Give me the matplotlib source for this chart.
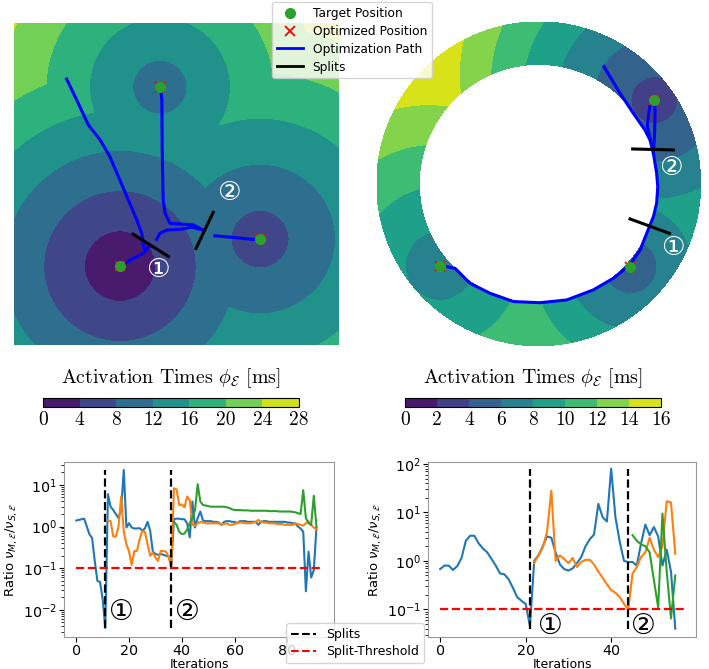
import numpy as np
import matplotlib
matplotlib.use("Agg")
import matplotlib.pyplot as plt
from matplotlib.lines import Line2D

# ---------------- planar domain (left) ----------------
tgt_x_a = [0.449, 0.326, 0.757]
tgt_y_a = [0.801, 0.245, 0.329]
t0_a = [9.5, 0.5, 5.5]
slope_a = [30.0, 32.0, 28.0]
levels_a = [0, 4, 8, 12, 16, 20, 24, 28]

path_a = [
    ([0.162, 0.193, 0.229, 0.265, 0.295, 0.326, 0.352, 0.378, 0.393, 0.400, 0.408, 0.416],
     [0.826, 0.761, 0.683, 0.637, 0.585, 0.512, 0.450, 0.388, 0.347, 0.300, 0.297, 0.305]),
    ([0.416, 0.398, 0.367, 0.342, 0.326], [0.305, 0.285, 0.269, 0.254, 0.246]),
    ([0.439, 0.449, 0.470, 0.511, 0.547, 0.582], [0.328, 0.347, 0.357, 0.359, 0.366, 0.357]),
    ([0.582, 0.552, 0.480, 0.465, 0.459, 0.456, 0.455, 0.451],
     [0.357, 0.373, 0.378, 0.409, 0.450, 0.606, 0.761, 0.800]),
    ([0.618, 0.675, 0.736, 0.757], [0.339, 0.334, 0.328, 0.329]),
]
splits_a = [([0.367, 0.475], [0.344, 0.275]), ([0.560, 0.613], [0.300, 0.412])]
marks_a = [(0.443, 0.233, "①"), (0.662, 0.472, "②")]

# ---------------- ring domain (right) ----------------
tgt_x_b = [0.714, -0.609, 0.564]
tgt_y_b = [0.517, -0.505, -0.511]
t0_b = [2.8, 6.5, 4.5]
slope_b = [8.3, 7.0, 9.0]
levels_b = [0, 2, 4, 6, 8, 10, 12, 14, 16]
r_in, r_out = 0.737, 1.0

path_b = [
    ([0.403, 0.502, 0.584, 0.656, 0.687, 0.708, 0.728, 0.735, 0.728, 0.708, 0.667, 0.626, 0.564],
     [0.723, 0.559, 0.435, 0.332, 0.270, 0.188, 0.065, -0.018, -0.120, -0.203, -0.305, -0.409, -0.500]),
    ([0.564, 0.461, 0.337, 0.173, 0.008, -0.156, -0.300, -0.424, -0.516, -0.588, -0.609],
     [-0.500, -0.583, -0.655, -0.717, -0.734, -0.727, -0.676, -0.614, -0.522, -0.507, -0.505]),
    ([0.708, 0.716, 0.718, 0.716], [0.188, 0.320, 0.450, 0.517]),
    ([0.716, 0.686, 0.670, 0.690], [0.517, 0.480, 0.360, 0.270]),
]
splits_b = [([0.580, 0.831], [0.215, 0.209]), ([0.564, 0.807], [-0.217, -0.306])]
marks_b = [(0.813, 0.096, "②"), (0.829, -0.398, "①")]

# ---------------- ratio curves ----------------
blue_a = [1.4, 1.45, 1.5, 1.55, 1.0, 0.65, 0.53, 0.15, 0.05, 0.047, 0.018, 0.0037,
          6.0, 3.0, 2.5, 2.0, 1.6, 2.6, 23.0, 0.95, 1.2, 0.95, 0.9, 0.9, 0.92, 0.8,
          0.9, 1.3, 0.8, 0.25, 0.22, 0.21, 0.22, 0.21, 0.2, 0.19, 0.12,
          1.5, 1.55, 1.55, 1.5, 1.5, 1.2, 0.55, 4.0, 0.95, 1.6, 2.3, 1.4, 1.35,
          1.35, 1.35, 1.3, 1.3, 1.25, 1.1, 1.3, 1.35, 1.35, 1.3, 1.3, 1.2, 1.35,
          1.35, 1.35, 1.3, 1.3, 1.3, 1.3, 1.1, 1.3, 1.35, 1.35, 1.3, 1.3, 1.3,
          1.3, 1.3, 1.3, 1.3, 1.25, 1.25, 1.2, 1.2, 1.0, 0.9, 0.75, 0.028, 0.25,
          0.06, 0.09, 0.95]
orange_a = [1.4, 1.35, 0.58, 0.58, 1.0, 5.3, 0.75, 0.38, 0.25, 0.12, 0.26, 0.26,
            0.5, 0.78, 0.75, 0.38, 0.2, 0.24, 0.18, 0.15, 0.26, 0.26, 0.25, 0.19,
            0.1, 8.3, 7.8, 3.3, 3.4, 2.9, 5.3, 4.3, 1.1, 1.05, 1.2, 1.3, 1.25,
            1.2, 1.2, 1.2, 1.2, 1.2, 1.2, 1.15, 1.15, 1.2, 1.1, 1.1, 1.15, 1.25,
            1.25, 1.25, 1.2, 1.2, 1.2, 1.25, 1.3, 1.45, 1.3, 1.25, 1.25, 1.2, 1.2,
            1.2, 1.15, 1.15, 1.15, 1.1, 1.1, 1.1, 1.1, 1.2, 1.15, 1.1, 1.05, 1.2,
            1.35, 1.1, 0.95, 0.85]
green_a = [1.3, 1.1, 0.75, 0.66, 0.68, 0.85, 1.2, 1.6, 2.5, 10.4, 4.0, 3.3, 3.2,
           3.1, 3.0, 3.0, 3.0, 3.0, 3.0, 3.0, 2.9, 2.8, 2.6, 2.5, 2.5, 2.5, 2.45,
           2.45, 2.45, 2.4, 2.4, 2.4, 2.4, 2.4, 2.4, 2.4, 2.35, 2.35, 2.35, 2.35,
           2.3, 2.3, 2.3, 2.3, 2.3, 2.25, 2.2, 2.1, 2.0, 7.5, 1.6, 1.2, 1.1, 5.5, 1.0]
start_a = [0, 12, 37]
split_it_a = [11, 36]
thr_end_a = 93

blue_b = [0.68, 0.8, 0.8, 0.65, 0.78, 1.15, 2.6, 3.3, 3.3, 2.3, 1.8, 1.5, 1.1, 0.8,
          0.55, 0.53, 0.42, 0.28, 0.18, 0.15, 0.13, 0.045, 1.0, 1.3, 2.0, 3.2, 3.0,
          1.5, 0.85, 0.68, 0.63, 0.7, 0.9, 1.2, 2.0, 2.8, 3.5, 15.0, 8.0, 6.5, 80.0,
          8.0, 2.5, 1.0, 0.95, 0.95, 0.8, 2.3, 5.6, 3.4, 5.0, 3.2, 0.8, 1.7, 0.6, 0.04]
orange_b = [0.9, 1.3, 1.9, 4.0, 28.0, 1.0, 1.3, 1.1, 0.9, 1.15, 0.75, 0.95, 1.05,
            1.05, 0.85, 0.6, 0.45, 0.33, 0.25, 0.22, 0.18, 0.13, 0.1, 0.55, 0.75,
            1.2, 1.5, 3.0, 1.7, 1.2, 2.0, 17.0, 16.0, 1.4]
green_b = [3.4, 2.6, 2.2, 2.0, 1.5, 0.4, 0.11, 9.5, 0.6, 0.065, 0.5]
start_b = [0, 22, 45]
split_it_b = [21, 44]
thr_end_b = 57
threshold = 0.1

fig = plt.figure(figsize=(7.09, 6.69), dpi=100)
W, H = 709.0, 669.0
circ_font = ["DejaVu Sans", "Noto Sans CJK JP"]


def draw_common(ax, paths, splits, marks, tx, ty):
    for px, py in paths:
        ax.plot(px, py, color="blue", lw=2.2, zorder=3)
    for sx, sy in splits:
        ax.plot(sx, sy, color="black", lw=2.2, zorder=4)
    ax.plot(tx, ty, "x", color="red", ms=7, mew=1.3, zorder=5)
    ax.plot(tx, ty, "o", color="tab:green", ms=7, zorder=6)
    for x, y, s in marks:
        ax.text(x, y, s, color="white", fontsize=19, ha="center", va="center",
                family=circ_font, zorder=7)
    ax.set_axis_off()


# left map
ax_a = fig.add_axes([14 / W, 1 - 345 / H, 325 / W, 322 / H])
g = np.linspace(0, 1, 300)
GX, GY = np.meshgrid(g, g)
phi_a = np.min([t + s * np.hypot(GX - x, GY - y)
                for x, y, t, s in zip(tgt_x_a, tgt_y_a, t0_a, slope_a)], axis=0)
cf_a = ax_a.contourf(GX, GY, np.clip(phi_a, 0, 27.9), levels=levels_a, cmap="viridis")
draw_common(ax_a, path_a, splits_a, marks_a, tgt_x_a, tgt_y_a)
ax_a.set_xlim(0, 1)
ax_a.set_ylim(0, 1)

# ring map
ax_b = fig.add_axes([(538.7 - 162) / W, 1 - (183.8 + 162) / H, 324 / W, 324 / H])
rr = np.linspace(r_in, r_out, 40)
th = np.linspace(0, 2 * np.pi, 361)
RR, TH = np.meshgrid(rr, th)
RX, RY = RR * np.cos(TH), RR * np.sin(TH)
fields = []
for x, y, t, s in zip(tgt_x_b, tgt_y_b, t0_b, slope_b):
    ri, ti = np.hypot(x, y), np.arctan2(y, x)
    dth = np.angle(np.exp(1j * (TH - ti)))
    d = np.hypot(0.5 * (RR + ri) * dth, RR - ri)
    fields.append(t + s * d)
phi_b = np.min(fields, axis=0)
cf_b = ax_b.contourf(RX, RY, np.clip(phi_b, 0, 15.9), levels=levels_b, cmap="viridis")
draw_common(ax_b, path_b, splits_b, marks_b, tgt_x_b, tgt_y_b)
ax_b.set_xlim(-1, 1)
ax_b.set_ylim(-1, 1)
ax_b.set_aspect("equal")

# colorbars
cb_label = r"Activation Times $\phi_{\mathcal{E}}$ [ms]"
for cf, lv, x0 in [(cf_a, levels_a, 43), (cf_b, levels_b, 405)]:
    cax = fig.add_axes([x0 / W, 1 - 407 / H, 256 / W, 9 / H])
    cb = fig.colorbar(cf, cax=cax, orientation="horizontal", ticks=lv)
    cax.set_xticklabels([str(v) for v in lv], fontfamily="cmr10", fontsize=14)
    cax.tick_params(length=0, pad=3)
    cb.outline.set_linewidth(0.8)
    fig.text((x0 + 128) / W, 1 - 378 / H, cb_label, ha="center", va="center",
             fontsize=14.3, fontfamily="cmr10", math_fontfamily="cm")

# top legend
handles = [
    Line2D([], [], ls="", marker="o", color="tab:green", ms=7, label="Target Position"),
    Line2D([], [], ls="", marker="x", color="red", ms=7, mew=1.3, label="Optimized Position"),
    Line2D([], [], color="blue", lw=2, label="Optimization Path"),
    Line2D([], [], color="black", lw=2, label="Splits"),
]
fig.legend(handles=handles, loc="upper center", bbox_to_anchor=(352 / W, 1 - 2 / H),
           borderaxespad=0, fontsize=8.8, handlelength=2.1, labelspacing=0.4)


def ratio_plot(ax, series, starts, split_its, thr_end, marks, ylim):
    allv = []
    for vals, st, c in zip(series, starts, ["C0", "C1", "C2"]):
        ax.plot(range(st, st + len(vals)), vals, color=c, lw=1.5)
        allv += vals
    ax.vlines(split_its, min(allv), max(allv), colors="black", linestyles="--", lw=1.6)
    ax.hlines(threshold, 0, thr_end, colors="red", linestyles="--", lw=1.6)
    ax.set_yscale("log")
    ax.set_ylim(*ylim)
    for x, y, s in marks:
        ax.text(x, y, s, color="black", fontsize=20, ha="center", va="center",
                family=circ_font)
    ax.set_xlabel("Iterations", fontsize=9, labelpad=-0.3)
    ax.set_ylabel(r"Ratio $\nu_{M,\mathcal{E}}/\nu_{S,\mathcal{E}}$", fontsize=9.5,
                  labelpad=2)
    ax.tick_params(labelsize=10.3, pad=1.5)
    for sp in ax.spines.values():
        sp.set_color("0.6")


ax_c = fig.add_axes([64 / W, 1 - 637 / H, 270 / W, 175 / H])
ratio_plot(ax_c, [blue_a, orange_a, green_a], start_a, split_it_a, thr_end_a,
           [(17, 0.009, "①"), (42.3, 0.009, "②")], (10 ** -2.65, 10 ** 1.55))
ax_c.set_xticks([0, 20, 40, 60, 80])

ax_d = fig.add_axes([428 / W, 1 - 637 / H, 268 / W, 175 / H])
ratio_plot(ax_d, [blue_b, orange_b, green_b], start_b, split_it_b, thr_end_b,
           [(25.9, 0.045, "①"), (47.5, 0.045, "②")], (10 ** -1.57, 10 ** 2.04))
ax_d.set_xticks([0, 20, 40])

handles2 = [
    Line2D([], [], color="black", ls="--", lw=1.5, label="Splits"),
    Line2D([], [], color="red", ls="--", lw=1.5, label="Split-Threshold"),
]
fig.legend(handles=handles2, loc="lower center", bbox_to_anchor=(355 / W, 6 / H),
           borderaxespad=0, fontsize=9, labelspacing=0.3)

fig.savefig("out.png", dpi=100)
